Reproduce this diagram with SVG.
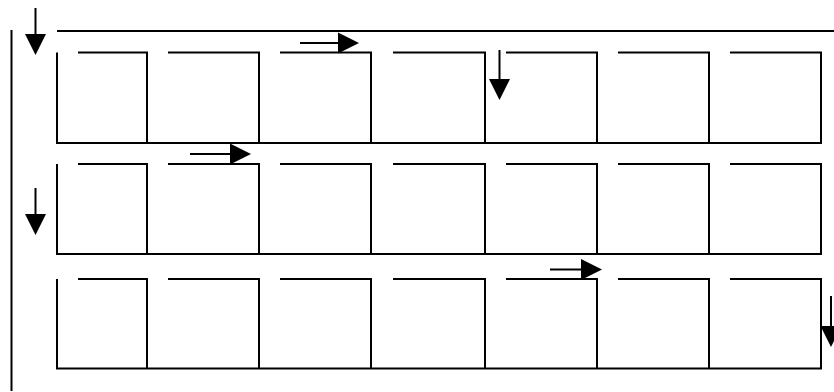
<svg xmlns="http://www.w3.org/2000/svg" width="834" height="392" viewBox="0 0 834 392">
<style>
.l{stroke:#000;stroke-width:2;fill:none;stroke-linecap:butt}
.a{stroke:#000;stroke-width:2;fill:none}
.h{fill:#000;stroke:none}
</style>
<defs>
<path id="head" d="M-21,-10.5 L0,0 L-21,10.5 Z"/>
</defs>
<rect width="834" height="392" fill="#fff"/>
<g id="frame">
<line class="l" x1="11.5" y1="30" x2="11.5" y2="391"/>
<line class="l" x1="57" y1="31" x2="834" y2="31"/>
</g>
<g id="row1">
<g id="r1c1"><path class="l" d="M57,52.5 V143 M78,52.5 H147 V143"/></g>
<g id="r1c2"><path class="l" d="M168,52.5 H259 V143"/></g>
<g id="r1c3"><path class="l" d="M280,52.5 H371 V143"/></g>
<g id="r1c4"><path class="l" d="M393,52.5 H485 V143"/></g>
<g id="r1c5"><path class="l" d="M506,52.5 H597 V143"/></g>
<g id="r1c6"><path class="l" d="M618,52.5 H709 V143"/></g>
<g id="r1c7"><path class="l" d="M730,52.5 H821 V143"/></g>
<line class="l" x1="56" y1="143" x2="822" y2="143"/>
</g>
<g id="row2">
<g id="r2c1"><path class="l" d="M57,164 V254 M78,164 H147 V254"/></g>
<g id="r2c2"><path class="l" d="M168,164 H259 V254"/></g>
<g id="r2c3"><path class="l" d="M280,164 H371 V254"/></g>
<g id="r2c4"><path class="l" d="M393,164 H485 V254"/></g>
<g id="r2c5"><path class="l" d="M506,164 H597 V254"/></g>
<g id="r2c6"><path class="l" d="M618,164 H709 V254"/></g>
<g id="r2c7"><path class="l" d="M730,164 H821 V254"/></g>
<line class="l" x1="56" y1="254" x2="822" y2="254"/>
</g>
<g id="row3">
<g id="r3c1"><path class="l" d="M57,279 V368.5 M78,279 H147 V368.5"/></g>
<g id="r3c2"><path class="l" d="M168,279 H259 V368.5"/></g>
<g id="r3c3"><path class="l" d="M280,279 H371 V368.5"/></g>
<g id="r3c4"><path class="l" d="M393,279 H485 V368.5"/></g>
<g id="r3c5"><path class="l" d="M506,279 H597 V368.5"/></g>
<g id="r3c6"><path class="l" d="M618,279 H709 V368.5"/></g>
<g id="r3c7"><path class="l" d="M730,279 H821 V368.5"/></g>
<line class="l" x1="56" y1="368.5" x2="822" y2="368.5"/>
</g>
<g id="connectors">
<line class="a" x1="35.5" y1="8" x2="35.5" y2="40"/>
<use href="#head" class="h" transform="translate(35.5,55) rotate(90)"/>
<line class="a" x1="300" y1="43" x2="345" y2="43"/>
<use href="#head" class="h" transform="translate(359,43)"/>
<line class="a" x1="499.5" y1="50" x2="499.5" y2="85"/>
<use href="#head" class="h" transform="translate(499.5,100) rotate(90)"/>
<line class="a" x1="190" y1="154" x2="236" y2="154"/>
<use href="#head" class="h" transform="translate(251,154)"/>
<line class="a" x1="35.5" y1="188" x2="35.5" y2="220"/>
<use href="#head" class="h" transform="translate(35.5,235) rotate(90)"/>
<line class="a" x1="550" y1="269.5" x2="588" y2="269.5"/>
<use href="#head" class="h" transform="translate(602,269.5)"/>
<line class="a" x1="831" y1="296" x2="831" y2="332"/>
<use href="#head" class="h" transform="translate(831,347) rotate(90)"/>
</g>
</svg>
